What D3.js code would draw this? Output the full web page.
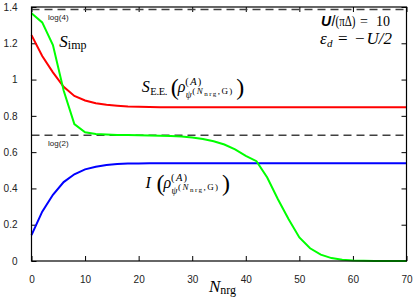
<!DOCTYPE html>
<html>
<head>
<meta charset="utf-8">
<script src="https://cdn.jsdelivr.net/npm/d3@7/dist/d3.min.js"></script>
<style>
  body { margin: 0; background: #fff; }
  svg { display: block; }
  .tick text { font-family: "Liberation Sans", Arial, sans-serif; font-size: 10px; fill: #222; }
  .math { font-family: "Liberation Serif", "Times New Roman", serif; fill: #000; }
</style>
</head>
<body>
<div class="chart"></div>
<script>
// N_nrg sampled every 2 steps
const nrg = [0, 2, 4, 6, 8, 10, 12, 14, 16, 18, 20, 22, 24, 26, 28, 30, 32, 34,
  36, 38, 40, 42, 44, 46, 48, 50, 52, 54, 56, 58, 60, 62, 64, 66, 68, 70];

const sEE = [1.245, 1.13, 1.04, 0.96, 0.91, 0.885, 0.87, 0.861, 0.856, 0.852, 0.85, 0.849,
  0.848, 0.847, 0.847, 0.847, 0.847, 0.847, 0.847, 0.847, 0.847, 0.847, 0.847, 0.847,
  0.847, 0.847, 0.847, 0.847, 0.847, 0.847, 0.847, 0.847, 0.847, 0.847, 0.847, 0.847];

const sImp = [1.365, 1.315, 1.19, 0.94, 0.755, 0.71, 0.70, 0.697, 0.695, 0.694, 0.693, 0.692,
  0.691, 0.689, 0.686, 0.681, 0.673, 0.66, 0.642, 0.615, 0.58, 0.55, 0.46, 0.34,
  0.23, 0.13, 0.07, 0.035, 0.016, 0.007, 0.003, 0.001, 0, 0, 0, 0];

const mutual = [0.143, 0.272, 0.365, 0.435, 0.478, 0.505, 0.52, 0.529, 0.534, 0.537, 0.538, 0.539,
  0.539, 0.539, 0.539, 0.539, 0.539, 0.539, 0.539, 0.539, 0.539, 0.539, 0.539, 0.539,
  0.539, 0.539, 0.539, 0.539, 0.539, 0.539, 0.539, 0.539, 0.539, 0.539, 0.539, 0.539];

const xTicks = [0, 10, 20, 30, 40, 50, 60, 70];
const yTicks = [0, 0.2, 0.4, 0.6, 0.8, 1, 1.2, 1.4];
const refLines = [{ v: Math.log(4), label: "log(4)" }, { v: Math.log(2), label: "log(2)" }];

const width = 415, height = 302;
const plotLeft = 31.5, plotRight = 406.5, plotTop = 7, plotBottom = 261;

const svg = d3.select(".chart").append("svg")
  .attr("width", width)
  .attr("height", height);

const x = d3.scaleLinear().domain([0, 70]).range([plotLeft, plotRight]);
const y = d3.scaleLinear().domain([0, 1.4]).range([plotBottom, plotTop]);

// axes, ticks pointing inward
svg.append("g")
  .attr("transform", `translate(0,${plotBottom})`)
  .call(d3.axisBottom(x).tickValues(xTicks).tickSize(-5).tickPadding(15).tickFormat(d3.format("d")))
  .call(g => g.select(".domain").remove());
svg.append("g")
  .attr("transform", `translate(${plotLeft},0)`)
  .call(d3.axisLeft(y).tickValues(yTicks).tickSize(-5).tickPadding(14).tickFormat(d => String(+d.toFixed(1))))
  .call(g => g.select(".domain").remove());
svg.append("g")
  .attr("transform", `translate(0,${plotTop})`)
  .call(d3.axisTop(x).tickValues(xTicks).tickSize(-5).tickFormat(""))
  .call(g => g.select(".domain").remove());
svg.append("g")
  .attr("transform", `translate(${plotRight},0)`)
  .call(d3.axisRight(y).tickValues(yTicks).tickSize(-5).tickFormat(""))
  .call(g => g.select(".domain").remove());
svg.selectAll(".tick line").attr("stroke", "#000");

// dashed reference lines
svg.selectAll(".ref")
  .data(refLines)
  .enter()
  .append("line")
  .attr("class", "ref")
  .attr("x1", plotLeft).attr("x2", plotRight)
  .attr("y1", d => y(d.v)).attr("y2", d => y(d.v))
  .attr("stroke", "#404040")
  .attr("stroke-width", 1.4)
  .attr("stroke-dasharray", "8,5");

svg.selectAll(".reflabel")
  .data(refLines)
  .enter()
  .append("text")
  .attr("x", x(3.1))
  .attr("y", d => y(d.v) + 10.5)
  .style("font-family", "'Liberation Sans', Arial, sans-serif")
  .style("font-size", "8px")
  .style("fill", "#222")
  .text(d => d.label);

// curves
const series = [
  { values: sEE, color: "#ff0000" },
  { values: mutual, color: "#0000ff" },
  { values: sImp, color: "#00ff00" }
];
const line = d3.line().x((d, i) => x(nrg[i])).y(d => y(d));
svg.selectAll(".curve")
  .data(series)
  .enter()
  .append("path")
  .attr("class", "curve")
  .attr("d", d => line(d.values))
  .attr("fill", "none")
  .attr("stroke", d => d.color)
  .attr("stroke-width", 2);

// frame
svg.append("rect")
  .attr("x", plotLeft).attr("y", plotTop)
  .attr("width", plotRight - plotLeft).attr("height", plotBottom - plotTop)
  .attr("fill", "none")
  .attr("stroke", "#000")
  .attr("stroke-width", 1.2);

// helper for piecewise math text
function piece(g, px, py, txt, size, italic) {
  return g.append("text")
    .attr("class", "math")
    .attr("x", px).attr("y", py)
    .style("font-size", size + "px")
    .style("font-style", italic ? "italic" : "normal")
    .text(txt);
}

// ( rho^(A)_{psi^(N_nrg,G)} )
function rhoGroup(g, px, py) {
  piece(g, px, py + 3, "(", 24, false);
  piece(g, px + 7, py, "ρ", 16, true);
  const a = g.append("text").attr("class", "math")
    .attr("x", px + 14.5).attr("y", py - 7)
    .attr("textLength", 16).attr("lengthAdjust", "spacing")
    .style("font-size", "10.5px");
  a.append("tspan").text("(");
  a.append("tspan").style("font-style", "italic").text("A");
  a.append("tspan").text(")");
  piece(g, px + 15, py + 6, "ψ", 9.5, true);
  const s = g.append("text").attr("class", "math")
    .attr("x", px + 21.5).attr("y", py + 2)
    .attr("textLength", 40).attr("lengthAdjust", "spacing")
    .style("font-size", "9px");
  s.append("tspan").text("(");
  s.append("tspan").style("font-style", "italic").text("N");
  s.append("tspan").attr("dy", 1.5).style("font-size", "7px").text("nrg");
  s.append("tspan").attr("dy", -1.5).text(",G)");
  piece(g, px + 65.5, py + 3, ")", 24, false);
}

const ann = svg.append("g");

// S_imp
const imp = ann.append("text").attr("class", "math")
  .attr("x", x(5.2)).attr("y", y(1.181)).style("font-size", "17px");
imp.append("tspan").style("font-style", "italic").text("S");
imp.append("tspan").attr("dy", 2).style("font-size", "12px").text("imp");

// S_E.E.(...)
const ex = x(20.6), ey = y(0.93);
piece(ann, ex, ey, "S", 16, true);
piece(ann, ex + 8.5, ey + 2.5, "E.E.", 10.5, false).attr("textLength", 17);
rhoGroup(ann, ex + 29, ey);

// I(...)
const ix = x(21.3), iy = y(0.40);
piece(ann, ix, iy, "I", 16, true);
rhoGroup(ann, ix + 11, iy);

// x axis title N_nrg
const xt = ann.append("text").attr("class", "math")
  .attr("x", 209).attr("y", 291.5).style("font-size", "17px");
xt.append("tspan").style("font-style", "italic").text("N");
xt.append("tspan").attr("dy", 2.5).style("font-size", "12px").text("nrg");

// parameters, top right
const u = ann.append("text").attr("y", 26).style("font-size", "14px");
u.append("tspan").attr("x", 321)
  .style("font-family", "'Liberation Sans', Arial, sans-serif")
  .style("font-weight", "bold").style("font-style", "italic").text("U");
u.append("tspan").attr("x", 331.5)
  .style("font-family", "'Liberation Sans', Arial, sans-serif").text("/");
u.append("tspan").attr("x", 335.5).attr("class", "math")
  .attr("textLength", 20).attr("lengthAdjust", "spacingAndGlyphs").text("(πΔ)");
u.append("tspan").attr("x", 360).attr("class", "math").text("=");
u.append("tspan").attr("x", 376).attr("class", "math").text("10");

const e = ann.append("text").attr("class", "math").attr("y", 44).style("font-size", "17px");
e.append("tspan").attr("x", 320).style("font-style", "italic").text("ε");
e.append("tspan").attr("x", 327).attr("dy", 3).style("font-size", "11px").style("font-style", "italic").text("d");
e.append("tspan").attr("x", 338).attr("dy", -3).text("=");
e.append("tspan").attr("x", 355).text("−");
e.append("tspan").attr("x", 366.5).style("font-style", "italic").text("U/2");
</script>
</body>
</html>
